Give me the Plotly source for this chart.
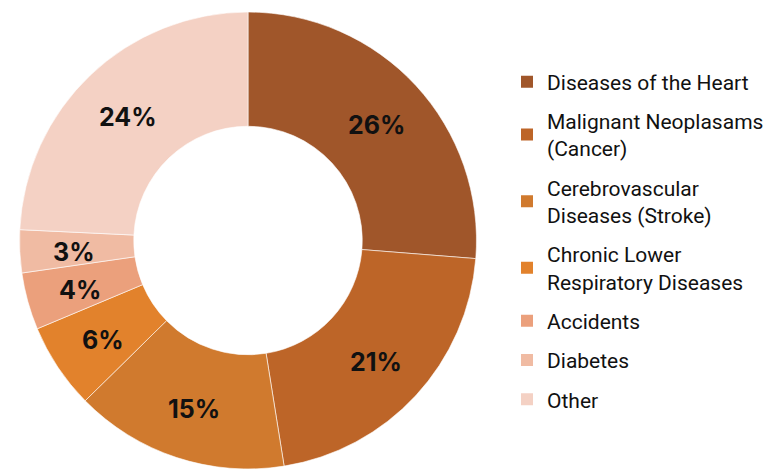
import numpy as np
import plotly.graph_objects as go

causes = [
    "Diseases of the Heart",
    "Malignant Neoplasams<br>(Cancer)",
    "Cerebrovascular<br>Diseases (Stroke)",
    "Chronic Lower<br>Respiratory Diseases",
    "Accidents",
    "Diabetes",
    "Other",
]
shares = [26, 21, 15, 6, 4, 3, 24]
colors = ["#A0562A", "#BD6528", "#D07A2E", "#E2822C", "#EBA07C", "#F0BBA3", "#F4D1C4"]

W, H = 763, 469
M_TOP = 12
HOLE = 0.5
DOMAIN_X = [0.0256, 0.6245]

fig = go.Figure()

fig.add_trace(
    go.Pie(
        labels=causes,
        values=shares,
        hole=HOLE,
        sort=False,
        direction="clockwise",
        rotation=0,
        marker=dict(colors=colors, line=dict(color="white", width=0.6)),
        textinfo="none",
        domain=dict(x=DOMAIN_X, y=[0, 1]),
        hoverinfo="label+value",
        showlegend=False,
    )
)

# Percentage labels placed at the middle of the ring, at each slice's mid-angle
plot_h = H - M_TOP
radius_px = min((DOMAIN_X[1] - DOMAIN_X[0]) * W, plot_h) / 2
cx_px = (DOMAIN_X[0] + DOMAIN_X[1]) / 2 * W
cy_paper = 0.5
label_r = radius_px * (1 + HOLE) / 2 + 3
total = sum(shares)
cum = np.cumsum([0] + shares[:-1])
for v, c in zip(shares, cum):
    ang = np.deg2rad((c + v / 2) / total * 360)
    x_px = cx_px + label_r * np.sin(ang)
    y_px = label_r * np.cos(ang) - 3
    fig.add_annotation(
        x=x_px / W,
        y=cy_paper + y_px / plot_h,
        xref="paper",
        yref="paper",
        text=f"<b>{v}%</b>",
        showarrow=False,
        font=dict(family="Inter", size=25, color="#111111"),
        xanchor="center",
        yanchor="middle",
    )

# Legend entries, one per cause
for name, col in zip(causes, colors):
    fig.add_trace(
        go.Scatter(
            x=[None],
            y=[None],
            mode="markers",
            name=name,
            legendgroup=name,
            marker=dict(symbol="square", size=13, color=col),
            hoverinfo="skip",
        )
    )

fig.update_layout(
    width=W,
    height=H,
    margin=dict(l=0, r=0, t=M_TOP, b=0, autoexpand=False),
    paper_bgcolor="white",
    plot_bgcolor="white",
    xaxis=dict(visible=False),
    yaxis=dict(visible=False),
    showlegend=True,
    legend=dict(
        x=507 / W,
        y=0.5,
        xanchor="left",
        yanchor="middle",
        font=dict(family="Roboto", size=21, color="#111111"),
        tracegroupgap=9,
        itemsizing="constant",
        itemclick=False,
        itemdoubleclick=False,
    ),
)

fig.write_html("out.html")
